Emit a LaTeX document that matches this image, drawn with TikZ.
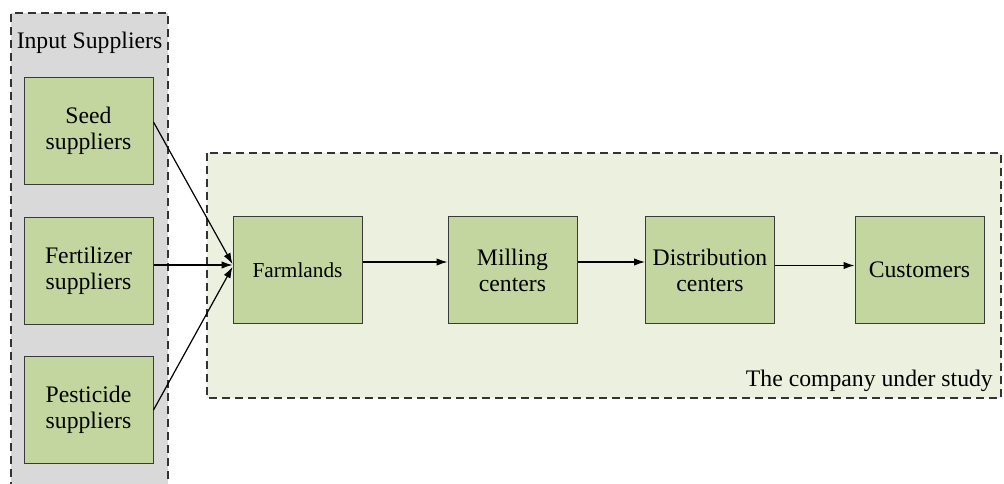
\documentclass[tikz,border=0pt]{standalone}
\usepackage{fontspec}
\setmainfont{LiberationSerif-Regular.ttf}
\usetikzlibrary{arrows.meta}
\definecolor{panelgrey}{HTML}{D9D9D9}
\definecolor{panelgreen}{HTML}{EBF1DE}
\definecolor{boxgreen}{HTML}{C4D6A0}
\definecolor{edgegrey}{HTML}{3A3A3A}
\tikzset{
  stage/.style={draw=edgegrey, line width=1pt, fill=boxgreen,
    minimum width=129pt, minimum height=107pt, inner sep=2pt,
    align=center, font=\fontsize{23.7}{26}\selectfont},
  panelborder/.style={draw=black!80, line width=1.2pt, dash pattern=on 8pt off 5pt},
  flow/.style={draw=black, line width=1.2pt, -{Latex[length=11pt,width=7.5pt]}},
  caption/.style={font=\fontsize{23.7}{26}\selectfont, inner sep=0pt}
}
\begin{document}
\begin{tikzpicture}[x=1pt,y=-1pt]
\useasboundingbox (0,0) rectangle (1004,483);
\clip (0,0) rectangle (1004,483);

% input suppliers panel (open at the bottom)
\fill[panelgrey] (11,13) rectangle (168,490);
\draw[panelborder] (11,490) -- (11,13) -- (168,13) -- (168,490);
\node[caption, anchor=base] (intitle) at (89.5,48) {Input Suppliers};

% company panel
\fill[panelgreen] (207,153) rectangle (1001,398);
\draw[panelborder] (207,153) rectangle (1001,398);
\node[caption, anchor=base east] (comptitle) at (993,386) {The company under study};

% supplier boxes
\node[stage] (seed) at (88.5,131) {Seed\\suppliers};
\node[stage] (fert) at (88.5,270.5) {Fertilizer\\suppliers};
\node[stage] (pest) at (88.5,409.5) {Pesticide\\suppliers};

% supply chain stages
\node[stage, font=\fontsize{21.3}{24}\selectfont] (farm) at (297.5,270) {Farmlands};
\node[stage] (mill) at (512.5,270) {Milling\\centers};
\node[stage] (dist) at (710,270) {Distribution\\centers};
\node[stage] (cust) at (919.5,270) {Customers};

% inputs converge on the farmlands
\draw[flow] (seed.east|-0,122) -- (farm.west|-0,264);
\draw[flow] (fert.east|-0,265) -- (farm.west|-0,265);
\draw[flow] (pest.east|-0,410) -- (farm.west|-0,267);

% product flow
\draw[flow] (farm.east|-0,262) -- (mill.west|-0,262);
\draw[flow] (mill.east|-0,262) -- (dist.west|-0,262);
\draw[flow] (dist.east|-0,265.5) -- (cust.west|-0,265.5);
\end{tikzpicture}
\end{document}
